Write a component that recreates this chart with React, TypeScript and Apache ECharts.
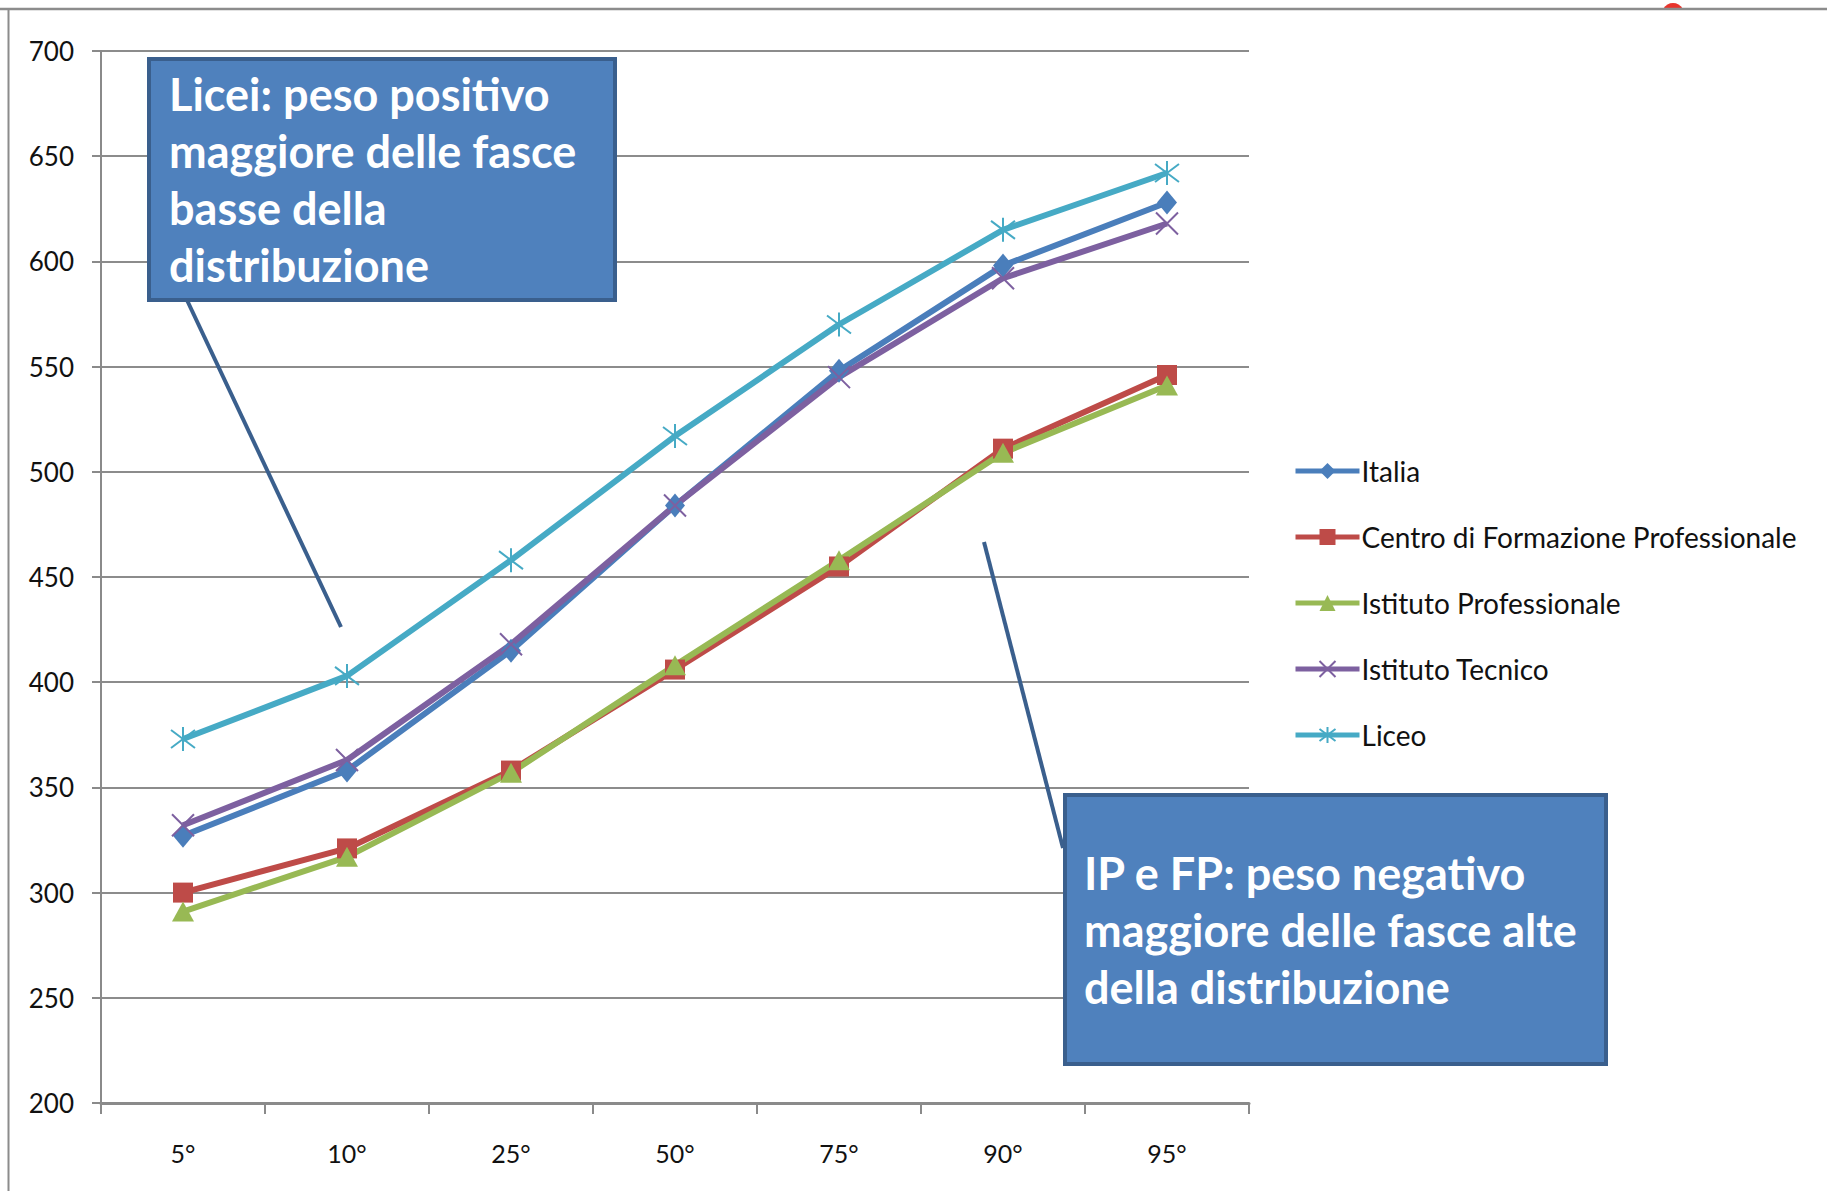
import React, { useEffect, useRef } from "react";
import * as echarts from "echarts";

const categories = ["5°", "10°", "25°", "50°", "75°", "90°", "95°"];
const italia = [327, 358, 415, 484, 548, 598, 628];
const centroFP = [300, 321, 358, 406, 455, 511, 546];
const istitutoProf = [291, 317, 357, 408, 458, 509, 541];
const istitutoTec = [332, 363, 418, 484, 545, 592, 618];
const liceo = [373, 403, 458, 517, 570, 615, 642];
const seriesNames = [
  "Italia",
  "Centro di Formazione Professionale",
  "Istituto Professionale",
  "Istituto Tecnico",
  "Liceo",
];
const yMin = 200;
const yMax = 700;
const yStep = 50;
const note1Lines = ["Licei: peso positivo", "maggiore delle fasce", "basse della", "distribuzione"];
const note2Lines = ["IP e FP: peso negativo", "maggiore delle fasce alte", "della distribuzione"];

const FONT = "Lato, 'Open Sans', sans-serif";
const C_ITALIA = "#4A7EBB";
const C_CFP = "#BE4B48";
const C_IP = "#98B954";
const C_IT = "#7D60A0";
const C_LICEO = "#46AAC5";
const BOX_FILL = "#4F81BD";
const BOX_STROKE = "#3A5F8D";

const X_PATH = "path://M0,0L20,20M20,0L0,20";
const STAR_PATH = "path://M1,1L19,19M19,1L1,19M10,-2L10,22";

export default function App() {
  const ref = useRef<HTMLDivElement>(null);

  useEffect(() => {
    if (!ref.current) return;
    const chart = echarts.init(ref.current, null, { renderer: "svg" });

    const mk = (name: string, data: number[], color: string, symbol: string, size: any, stroked: boolean) => ({
      name,
      type: "line",
      data,
      symbol,
      symbolSize: size,
      showAllSymbol: true,
      lineStyle: { color, width: 6 },
      itemStyle: stroked
        ? { color: "rgba(0,0,0,0)", borderColor: color, borderWidth: 2 }
        : { color, borderWidth: 0 },
      emphasis: { disabled: true },
      z: 3,
    });

    chart.setOption({
      animation: false,
      backgroundColor: "#ffffff",
      grid: { left: 101, right: 578, top: 51, bottom: 88, containLabel: false },
      legend: {
        orient: "vertical",
        left: 1288,
        top: 452,
        itemWidth: 64,
        itemHeight: 20,
        itemGap: 38,
        selectedMode: false,
        lineStyle: { width: 5 },
        textStyle: { fontFamily: FONT, fontSize: 28, color: "#111", padding: [0, 0, 0, -3] },
        data: seriesNames,
      },
      xAxis: {
        type: "category",
        data: categories,
        boundaryGap: true,
        axisLine: { show: true, lineStyle: { color: "#8a8a8a", width: 3 } },
        axisTick: { show: true, length: 11, alignWithLabel: false, lineStyle: { color: "#8a8a8a", width: 2 } },
        axisLabel: { fontFamily: FONT, fontSize: 25, color: "#111", margin: 37 },
        splitLine: { show: false },
      },
      yAxis: {
        type: "value",
        min: yMin,
        max: yMax,
        interval: yStep,
        axisLine: { show: true, lineStyle: { color: "#8a8a8a", width: 2 } },
        axisTick: { show: true, length: 9, lineStyle: { color: "#8a8a8a", width: 2 } },
        axisLabel: { fontFamily: FONT, fontSize: 26, color: "#111", margin: 27 },
        splitLine: { show: true, lineStyle: { color: "#8c8c8c", width: 2 } },
      },
      series: [
        mk(seriesNames[0], italia, C_ITALIA, "diamond", [20, 24], false),
        mk(seriesNames[1], centroFP, C_CFP, "rect", 20, false),
        mk(seriesNames[2], istitutoProf, C_IP, "triangle", [22, 20], false),
        mk(seriesNames[3], istitutoTec, C_IT, X_PATH, 22, true),
        mk(seriesNames[4], liceo, C_LICEO, STAR_PATH, 24, true),
      ],
      graphic: [
        // page frame
        { type: "circle", shape: { cx: 1673, cy: 14, r: 11 }, style: { fill: "#E8342C" }, z: 50 },
        { type: "rect", shape: { x: 1600, y: 10, width: 150, height: 30 }, style: { fill: "#ffffff" }, z: 51 },
        { type: "line", shape: { x1: 0, y1: 9, x2: 1827, y2: 9 }, style: { stroke: "#8c8c8c", lineWidth: 2.5 }, z: 52 },
        { type: "line", shape: { x1: 8.5, y1: 9, x2: 8.5, y2: 1191 }, style: { stroke: "#8c8c8c", lineWidth: 2 }, z: 52 },
        // connectors
        { type: "line", shape: { x1: 186, y1: 298, x2: 341, y2: 627 }, style: { stroke: BOX_STROKE, lineWidth: 4 }, z: 60 },
        { type: "line", shape: { x1: 984, y1: 542, x2: 1063, y2: 848 }, style: { stroke: BOX_STROKE, lineWidth: 4 }, z: 60 },
        // box 1
        {
          type: "rect",
          shape: { x: 149, y: 59, width: 466, height: 241 },
          style: { fill: BOX_FILL, stroke: BOX_STROKE, lineWidth: 4 },
          z: 61,
        },
        {
          type: "text",
          x: 169,
          y: 65,
          style: {
            text: note1Lines.join("\n"),
            fill: "#ffffff",
            fontFamily: FONT,
            fontWeight: "bold",
            fontSize: 45,
            lineHeight: 57,
            textVerticalAlign: "top",
            verticalAlign: "top",
          },
          z: 62,
        },
        // box 2
        {
          type: "rect",
          shape: { x: 1065, y: 795, width: 541, height: 269 },
          style: { fill: BOX_FILL, stroke: BOX_STROKE, lineWidth: 4 },
          z: 61,
        },
        {
          type: "text",
          x: 1084,
          y: 844,
          style: {
            text: note2Lines.join("\n"),
            fill: "#ffffff",
            fontFamily: FONT,
            fontWeight: "bold",
            fontSize: 45,
            lineHeight: 57,
            textVerticalAlign: "top",
            verticalAlign: "top",
          },
          z: 62,
        },
      ],
    });

    return () => chart.dispose();
  }, []);

  return (
    <div
      ref={ref}
      style={{ position: "fixed", left: 0, top: 0, width: 1827, height: 1191, background: "#fff" }}
    />
  );
}
